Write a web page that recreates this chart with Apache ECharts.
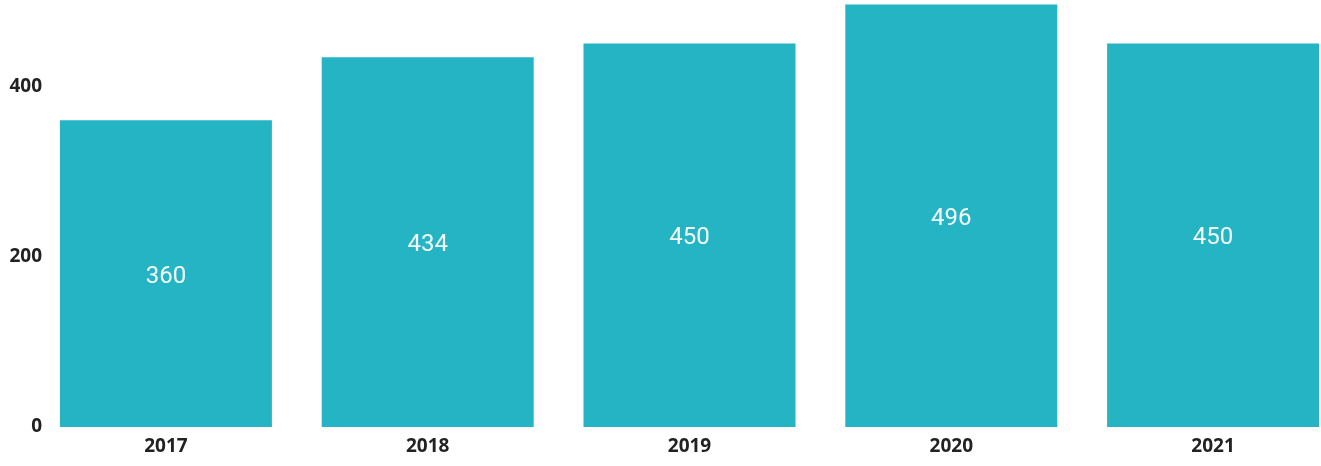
<!DOCTYPE html>
<html><head><meta charset="utf-8">
<script src="https://cdn.jsdelivr.net/npm/echarts@6/dist/echarts.min.js"></script>
<style>html,body{margin:0;padding:0;background:#fff;overflow:hidden;width:1321px;height:466px}#c{width:1344px;height:466px}</style>
</head><body><div id="c"></div>
<script>
const categories = ['2017', '2018', '2019', '2020', '2021'];
const values = [360, 434, 450, 496, 450];
const yTicks = [0, 200, 400];

const chart = echarts.init(document.getElementById('c'), null, {renderer: 'canvas'});
chart.setOption({
  animation: false,
  grid: {left: 35, right: 0, top: 1, bottom: 39, containLabel: false},
  xAxis: {
    type: 'category', data: categories,
    axisLine: {show: false}, axisTick: {show: false},
    axisLabel: {margin: 10, color: '#222', fontFamily: 'Open Sans', fontWeight: 'bold', fontSize: 19}
  },
  yAxis: {
    type: 'value', min: 0, max: 500, interval: 200,
    splitLine: {show: false}, axisLine: {show: false}, axisTick: {show: false},
    axisLabel: {
      showMaxLabel: false, margin: -7, align: 'right',
      color: '#222', fontFamily: 'Open Sans', fontWeight: 'bold', fontSize: 19,
      formatter: v => yTicks.includes(v) ? String(v) : ''
    }
  },
  series: [{
    type: 'bar', data: values, barWidth: 212,
    itemStyle: {color: '#24b4c3'},
    label: {show: true, position: 'inside', offset: [0, 3], color: '#f4fbfc', fontFamily: 'Roboto', fontSize: 24}
  }]
});
</script></body></html>
